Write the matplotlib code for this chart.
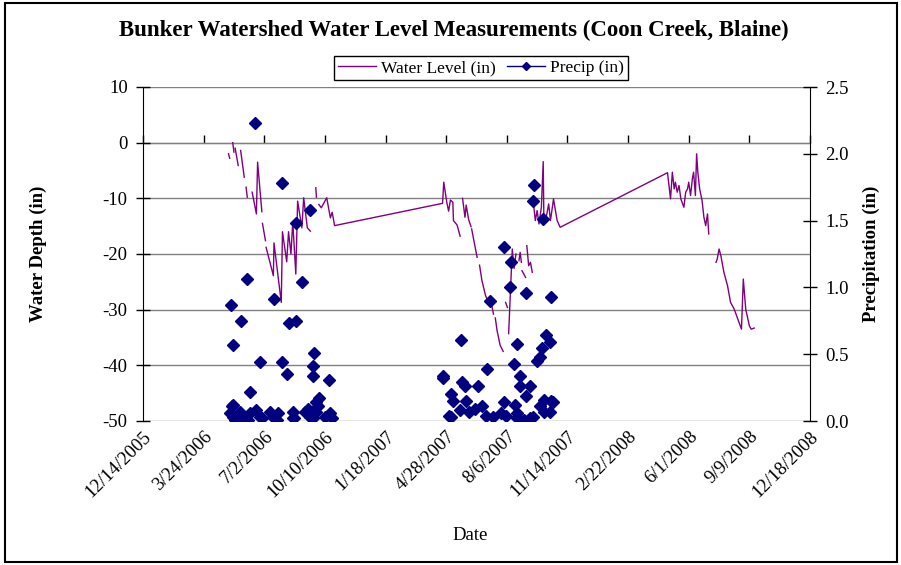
#!/usr/bin/env python3

import datetime as dt

import matplotlib
matplotlib.use('Agg')
import matplotlib.pyplot as plt
import matplotlib.dates as mdates
import matplotlib.ticker as mticker
from matplotlib.lines import Line2D
from matplotlib.patches import Rectangle
import numpy as np

nan = np.nan

# water level readings (in); nan = gap in the logger record
LEVEL_DATES = [
    '2006-05-04', '2006-05-06', '2006-05-07', '2006-05-11', '2006-05-13', '2006-05-14',
    '2006-05-15', '2006-05-20', '2006-05-22', '2006-05-24', '2006-05-30', '2006-06-01',
    '2006-06-02', '2006-06-04', '2006-06-08', '2006-06-12', '2006-06-19', '2006-06-21',
    '2006-06-28', '2006-06-28', '2006-06-29', '2006-07-04', '2006-07-04', '2006-07-05',
    '2006-07-17', '2006-07-18', '2006-07-30', '2006-08-01', '2006-08-08', '2006-08-11',
    '2006-08-15', '2006-08-18', '2006-08-23', '2006-08-26', '2006-09-02', '2006-09-05',
    '2006-09-11', '2006-09-16', '2006-09-20', '2006-09-25', '2006-09-26', '2006-09-28',
    '2006-09-30', '2006-10-04', '2006-10-13', '2006-10-19', '2006-10-22', '2006-10-26',
    '2007-04-22', '2007-04-24', '2007-04-29', '2007-05-02', '2007-05-05', '2007-05-09',
    '2007-05-10', '2007-05-16', '2007-05-21', '2007-05-23', '2007-05-25', '2007-05-29',
    '2007-05-31', '2007-06-04', '2007-06-08', '2007-06-08', '2007-06-09', '2007-06-18',
    '2007-06-20', '2007-06-22', '2007-06-26', '2007-07-02', '2007-07-07', '2007-07-10',
    '2007-07-15', '2007-07-17', '2007-07-18', '2007-07-21', '2007-07-26', '2007-07-31',
    '2007-08-02', '2007-08-04', '2007-08-07', '2007-08-08', '2007-08-09', '2007-08-15',
    '2007-08-18', '2007-08-21', '2007-08-24', '2007-08-26', '2007-08-28', '2007-08-30',
    '2007-08-30', '2007-08-31', '2007-09-06', '2007-09-07', '2007-09-08', '2007-09-11',
    '2007-09-14', '2007-09-17', '2007-09-18', '2007-09-19', '2007-09-22', '2007-09-25',
    '2007-09-28', '2007-10-02', '2007-10-05', '2007-10-06', '2007-10-09', '2007-10-14',
    '2007-10-17', '2007-10-22', '2007-10-28', '2007-11-02',
    '2008-04-27', '2008-05-02', '2008-05-05', '2008-05-08', '2008-05-10', '2008-05-13',
    '2008-05-16', '2008-05-19', '2008-05-24', '2008-05-27', '2008-05-30', '2008-06-01',
    '2008-06-04', '2008-06-07', '2008-06-09', '2008-06-12', '2008-06-14', '2008-06-16',
    '2008-06-19', '2008-06-23', '2008-06-26', '2008-06-29', '2008-07-02', '2008-07-04',
    '2008-07-10', '2008-07-16', '2008-07-18', '2008-07-21', '2008-07-24', '2008-07-29',
    '2008-08-04', '2008-08-09', '2008-08-15', '2008-08-21', '2008-08-27', '2008-08-30',
    '2008-09-03', '2008-09-09', '2008-09-12', '2008-09-17',
]
LEVEL_IN = [
    -2.0, -2.8, nan, 0.0, -1.7, nan,
    -1.0, -4.1, nan, -1.4, -6.2, nan,
    -8.0, -9.8, nan, -8.9, -12.8, -3.5,
    -12.4, nan, -14.5, -17.6, nan, -18.8,
    -23.9, -18.0, -28.7, -16.0, -21.4, -16.0,
    -20.0, -14.2, -23.6, -10.5, -15.3, -9.9,
    -15.3, -15.9, nan, -8.1, -9.8, nan,
    -11.1, -11.7, -9.9, -13.5, -12.5, -14.9,
    -10.9, -7.1, -10.7, -12.3, -10.3, -10.7,
    -14.0, -14.8, -16.8, nan, -10.0, -13.4,
    -11.2, -13.8, -15.1, nan, -15.5, -20.6,
    nan, -22.0, -24.8, -27.5, -28.7, -28.0,
    -30.8, nan, -31.5, -33.8, -36.4, -37.5,
    nan, -28.7, -29.6, nan, -34.3, -19.1,
    -22.6, -20.0, nan, -21.2, -19.7, -21.5,
    nan, -23.0, -24.2, nan, -18.5, -22.1,
    -21.5, -23.3, nan, -11.0, -14.0, -12.2,
    -14.6, -11.6, -3.4, -12.8, -14.0, -11.0,
    -14.0, -10.1, -14.0, -15.2,
    -5.4, -10.1, -5.3, -8.3, -7.1, -8.9,
    -7.7, -10.1, -11.6, -8.9, -8.3, -7.1,
    -9.5, -6.5, -5.3, -9.5, -2.0, -5.3,
    -8.3, -10.4, -13.4, -14.9, -12.8, -16.4,
    nan, -21.5, -20.9, -19.1, -20.3, -23.3,
    -25.7, -28.7, -29.9, -31.7, -33.5, -24.5,
    -29.9, -32.9, -33.5, -33.3,
]

# daily precipitation (in)
PRECIP_DATES = [
    '2006-05-06', '2006-05-08', '2006-05-09', '2006-05-11', '2006-05-11', '2006-05-12',
    '2006-05-14', '2006-05-16', '2006-05-23', '2006-05-24', '2006-05-28', '2006-05-30',
    '2006-06-03', '2006-06-05', '2006-06-08', '2006-06-09', '2006-06-16', '2006-06-19',
    '2006-06-25', '2006-06-25', '2006-06-28', '2006-07-12', '2006-07-17', '2006-07-18',
    '2006-07-23', '2006-07-25', '2006-08-01', '2006-08-01', '2006-08-08', '2006-08-12',
    '2006-08-18', '2006-08-19', '2006-08-20', '2006-08-23', '2006-08-24', '2006-09-03',
    '2006-09-07', '2006-09-12', '2006-09-15', '2006-09-15', '2006-09-20', '2006-09-20',
    '2006-09-21', '2006-09-22', '2006-09-26', '2006-09-26', '2006-09-28', '2006-10-01',
    '2006-10-10', '2006-10-17', '2006-10-19', '2006-10-21',
    '2007-04-22', '2007-04-23', '2007-05-02', '2007-05-06', '2007-05-06', '2007-05-10',
    '2007-05-21', '2007-05-23', '2007-05-24', '2007-05-29', '2007-05-31', '2007-06-05',
    '2007-06-15', '2007-06-19', '2007-06-26', '2007-07-03', '2007-07-04', '2007-07-10',
    '2007-07-14', '2007-07-27', '2007-08-01', '2007-08-02', '2007-08-05', '2007-08-11',
    '2007-08-13', '2007-08-18', '2007-08-20', '2007-08-22', '2007-08-22', '2007-08-22',
    '2007-08-28', '2007-08-28', '2007-08-28', '2007-09-04', '2007-09-07', '2007-09-07',
    '2007-09-14', '2007-09-14', '2007-09-18', '2007-09-19', '2007-09-20', '2007-09-25',
    '2007-09-29', '2007-09-29', '2007-10-03', '2007-10-05', '2007-10-06', '2007-10-06',
    '2007-10-09', '2007-10-16', '2007-10-17', '2007-10-18', '2007-10-18', '2007-10-21',
]
PRECIP_IN = [
    0.06, 0.87, 0.11, 0.03, 0.57, 0.12,
    0.01, 0.02, 0.07, 0.75, 0.04, 0.02,
    1.06, 0.01, 0.22, 0.06, 2.23, 0.08,
    0.44, 0.03, 0.02, 0.07, 0.03, 0.91,
    0.01, 0.06, 1.78, 0.44, 0.35, 0.73,
    0.02, 0.07, 0.02, 0.75, 1.48, 1.04,
    0.07, 0.09, 1.58, 0.03, 0.34, 0.41,
    0.02, 0.51, 0.07, 0.14, 0.11, 0.17,
    0.03, 0.31, 0.06, 0.02,
    0.34, 0.32, 0.04, 0.03, 0.20, 0.15,
    0.08, 0.61, 0.29, 0.26, 0.15, 0.07,
    0.09, 0.26, 0.11, 0.04, 0.39, 0.90,
    0.03, 0.06, 1.30, 0.14, 0.04, 1.00,
    1.19, 0.43, 0.12, 0.58, 0.06, 0.02,
    0.34, 0.26, 0.01, 0.01, 0.96, 0.19,
    0.26, 0.02, 1.65, 0.03, 1.77, 0.45,
    0.48, 0.11, 0.55, 1.51, 0.16, 0.07,
    0.64, 0.07, 0.59, 0.15, 0.93, 0.14,
]

# Excel-style date axis: 12/14/2005 every 100 days
TICK_START = dt.date(2005, 12, 14)
TICK_STEP_DAYS = 100
N_TICKS = 12

PURPLE = '#800080'
NAVY = '#000080'
FONT = 'Liberation Serif'
TICK_SIZE = 13.5


def to_dates(strs):
    return [dt.datetime.strptime(s, '%Y-%m-%d') for s in strs]


plt.rcParams['font.family'] = FONT
plt.rcParams['axes.unicode_minus'] = False

fig = plt.figure(figsize=(9.01, 5.65), dpi=100)
ax = fig.add_axes([143 / 901, 1 - 421 / 565, (810 - 143) / 901, (421 - 87) / 565])
ax2 = ax.twinx()

ax.plot(to_dates(LEVEL_DATES), LEVEL_IN, color=PURPLE, lw=1.0, zorder=3)
ax2.plot(to_dates(PRECIP_DATES), PRECIP_IN, linestyle='none', marker='D',
         ms=6.0, mfc=NAVY, mec=NAVY, zorder=4)

tick_dates = [TICK_START + dt.timedelta(days=TICK_STEP_DAYS * i) for i in range(N_TICKS)]
tick_nums = mdates.date2num(tick_dates)
tick_labels = [f'{d.month}/{d.day}/{d.year}' for d in tick_dates]

ax.set_xlim(tick_nums[0], tick_nums[-1])
ax.set_ylim(-50, 10)
ax2.set_ylim(0, 2.5)

ax.set_xticks(tick_nums)
ax.set_xticklabels(tick_labels, rotation=45, ha='right', va='top', rotation_mode='anchor',
                   fontsize=TICK_SIZE)
ax.tick_params(axis='x', length=0, pad=5)

# x axis line crosses at 0 with the ticks hanging below it
xsec = ax.secondary_xaxis(50 / 60)
xsec.set_xticks(tick_nums)
xsec.set_xticklabels([])
xsec.tick_params(axis='x', direction='out', length=6, width=1, color='k')
xsec.spines['bottom'].set_color('k')

ax.yaxis.set_major_locator(mticker.MultipleLocator(10))
ax.tick_params(axis='y', direction='inout', length=10, width=1, labelsize=TICK_SIZE, pad=6)
ax2.yaxis.set_major_locator(mticker.MultipleLocator(0.5))
ax2.yaxis.set_major_formatter(mticker.FormatStrFormatter('%.1f'))
ax2.tick_params(axis='y', direction='inout', length=10, width=1, labelsize=TICK_SIZE, pad=6)

for a in (ax, ax2):
    a.spines['top'].set_visible(False)
    a.spines['bottom'].set_visible(False)
ax.spines['right'].set_visible(False)
ax2.spines['left'].set_visible(False)

ax.grid(axis='y', color='#808080', lw=1.0, zorder=1)
ax.set_axisbelow(True)

ax.set_ylabel('Water Depth (in)', fontsize=13.5, fontweight='bold')
ax.yaxis.set_label_coords((47 - 143) / 667, 0.5)
ax2.set_ylabel('Precipitation (in)', fontsize=13.5, fontweight='bold', labelpad=10)
fig.text(470 / 901, 1 - 535 / 565, 'Date', ha='center', va='center', fontsize=TICK_SIZE)
fig.text(454 / 901, 1 - 30 / 565,
         'Bunker Watershed Water Level Measurements (Coon Creek, Blaine)',
         ha='center', va='center', fontsize=16.5, fontweight='bold')

handles = [
    Line2D([], [], color=PURPLE, lw=1.0),
    Line2D([], [], color=NAVY, lw=1.0, marker='D', ms=4.5),
]
leg = fig.legend(handles, ['Water Level (in)', 'Precip (in)'], loc='center',
                 bbox_to_anchor=(481 / 901, 1 - 68 / 565), ncol=2, fontsize=12.5,
                 frameon=True, fancybox=False, edgecolor='k', framealpha=1,
                 borderpad=0.25, handlelength=2.2, handletextpad=0.3, columnspacing=0.6,
                 borderaxespad=0)
leg.get_frame().set_linewidth(1.0)

fig.patches.append(Rectangle((5 / 901, 3 / 565), 892 / 901, 559 / 565,
                             transform=fig.transFigure, fill=False, edgecolor='k', lw=1.5))

fig.savefig('out.png', dpi=100)
